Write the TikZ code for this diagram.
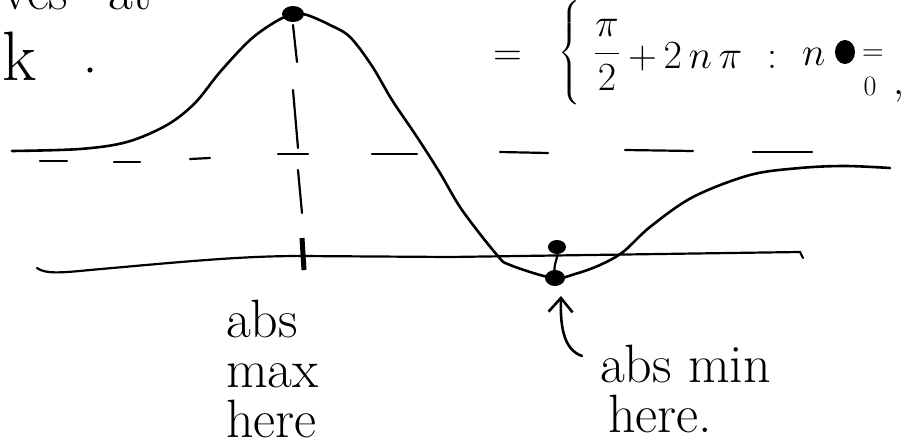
\RequirePackage{fix-cm}
\documentclass[tikz,border=0pt]{standalone}
\usepackage{amsmath}
\usetikzlibrary{arrows.meta}
\begin{document}
\begin{tikzpicture}[x=1pt,y=-1pt,
  pen/.style={line width=2.6pt,line cap=round,line join=round},
  thin pen/.style={line width=2.2pt,line cap=round},
  lbl/.style={inner sep=0pt,font=\fontsize{54}{50}\selectfont,align=left},
  formula/.style={inner sep=0pt,font=\fontsize{40}{44}\selectfont}]
\useasboundingbox (0,0) rectangle (902,444);

% cut-off text at the top
\node[lbl,anchor=base west] (topA) at (2,10) {ves};
\node[lbl,anchor=base west] (topB) at (108,10) {at};
\node[inner sep=0pt,font=\fontsize{70}{70}\selectfont,anchor=base west] (kk) at (2,81) {k};
\fill (90,70) circle (2.6);

% formula
\node[formula,anchor=base west] (eqA) at (493,66) {$=$};
\node[formula] (brace) at (570,53) {$\bigg\{$};
\node[formula] (frac) at (607,55) {$\dfrac{\pi}{2}$};
\node[formula,anchor=base west] (rest) at (628,68) {$+\,2\,n\,\pi$};
\node[formula] (colon) at (772,60) {$:$};
\node[formula,anchor=base west] (nn) at (802,66) {$n$};
\fill (845,52) ellipse (10 and 12);
\node[inner sep=0pt,font=\fontsize{30}{30}\selectfont] (eqB) at (873,55) {$=$};
\node[inner sep=0pt,font=\fontsize{28}{28}\selectfont] (zero) at (870,86) {$0$};
\node[formula,anchor=base west] (comma) at (893,95) {$,$};

% dashed asymptote
\foreach \a/\b/\c/\d in {40/161/67/161, 114/162/140/162, 190/159/210/158, 278/154/308/154,
  372/154/417/154, 500/152/548/153, 625/150/693/151, 753/152/812/152}
  \draw[thin pen] (\a,\b) -- (\c,\d);

% axis
\draw[thin pen] (37,268) .. controls (45,274) and (60,273) .. (90,270)
  .. controls (180,262) and (240,256) .. (300,256)
  -- (450,257) -- (800,252) -- (803,258);

% vertical dashed line from the peak
\draw[thin pen] (293,25) -- (297,62);
\draw[thin pen] (293,90) -- (298,148);
\draw[thin pen] (298,170) -- (302,213);
\draw[line width=5pt] (302,238) -- (304,270);

% curve
\draw[pen] plot[smooth,tension=0.55] coordinates {
  (12,151) (80,149) (127,142) (167,125) (195,103) (220,72) (250,40) (275,22) (293,14)
  (307,15) (330,25) (350,37) (372,66) (392,100) (417,137) (440,173) (462,210)
  (497,255) (510,265) (553,278) (575,274) (600,265) (623,252) (650,227) (693,197)
  (750,175) (800,168) (845,166) (890,168)};

% points
\fill (293,14) ellipse (11 and 8);
\coordinate (maxdot) at (293,14);
\fill (557,247) ellipse (9 and 7);
\coordinate (updot) at (557,247);
\fill (555,278) ellipse (10 and 8);
\coordinate (mindot) at (555,278);
\draw[thin pen] (updot) .. controls (560,258) and (552,262) .. (mindot);

% labels
\node[lbl,anchor=base west] (maxlbl) at (226,437) {abs\\max\\here};
\node[lbl,anchor=base west] (minlbl) at (600,432) {abs min\\\hspace*{8pt}here.};

% arrow
\coordinate (astart) at (582,356);
\coordinate (atip) at (561,296);
\draw[pen,-{Straight Barb[length=14pt,width=24pt,line width=2.6pt]}]
  (astart) .. controls (565,350) and (560,330) .. (atip);
\end{tikzpicture}
\end{document}
